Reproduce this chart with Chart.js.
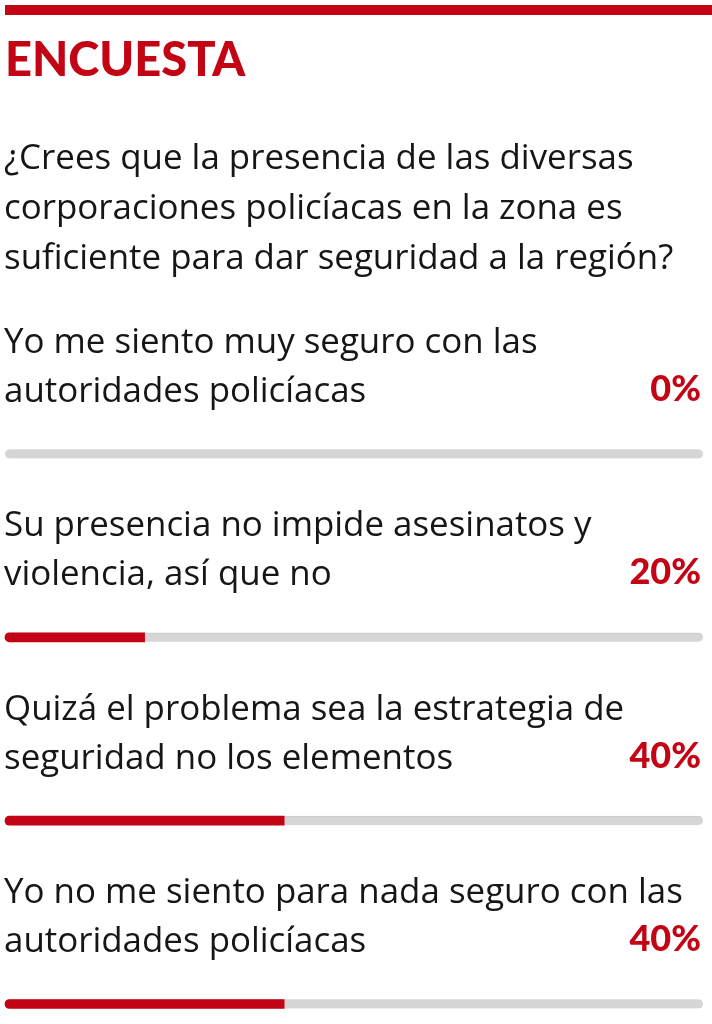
<!DOCTYPE html>
<html>
<head>
<meta charset="utf-8">
<script src="https://cdn.jsdelivr.net/npm/chart.js@4/dist/chart.umd.min.js"></script>
<style>
  html, body { margin: 0; padding: 0; background: #ffffff; }
  #wrap { position: relative; width: 712px; height: 1024px; }
</style>
</head>
<body>
<div id="wrap"><canvas id="poll" width="712" height="1024"></canvas></div>
<script>
const title = 'ENCUESTA';
const question = [
  '¿Crees que la presencia de las diversas',
  'corporaciones policíacas en la zona es',
  'suficiente para dar seguridad a la región?'
];
const options = [
  ['Yo me siento muy seguro con las', 'autoridades policíacas'],
  ['Su presencia no impide asesinatos y', 'violencia, así que no'],
  ['Quizá el problema sea la estrategia de', 'seguridad no los elementos'],
  ['Yo no me siento para nada seguro con las', 'autoridades policíacas']
];
const percents = [0, 20, 40, 40];
const track = [100, 100, 100, 100];

const RED = '#c30415';
const TEXT = '#161616';

// draws header, question, option labels and percentages
const pollText = {
  id: 'pollText',
  afterDraw(chart) {
    const ctx = chart.ctx;
    const yScale = chart.scales.y;
    ctx.save();

    ctx.fillStyle = RED;
    ctx.fillRect(5, 5, 707, 10);

    ctx.textBaseline = 'alphabetic';
    ctx.textAlign = 'left';
    ctx.fillStyle = RED;
    ctx.font = '900 47px Lato';
    ctx.fillText(title, 5, 76);

    ctx.fillStyle = TEXT;
    ctx.font = '34.9px "Open Sans"';
    question.forEach((line, i) => ctx.fillText(line, 4, 169 + i * 50));

    options.forEach((lines, i) => {
      const y = yScale.getPixelForValue(i);
      ctx.fillStyle = TEXT;
      ctx.textAlign = 'left';
      ctx.font = '34.9px "Open Sans"';
      ctx.fillText(lines[0], 4, y - 101);
      ctx.fillText(lines[1], 4, y - 52);
      ctx.fillStyle = RED;
      ctx.textAlign = 'right';
      ctx.font = '900 36px Lato';
      ctx.fillText(percents[i] + '%', 701, y - 53);
    });
    ctx.restore();
  }
};

new Chart(document.getElementById('poll'), {
  type: 'bar',
  data: {
    labels: options.map(o => o.join(' ')),
    datasets: [
      {
        label: 'Porcentaje',
        data: percents,
        backgroundColor: (c) => c.raw > 0 ? RED : 'rgba(0,0,0,0)',
        grouped: false,
        barThickness: 9,
        borderSkipped: false,
        borderRadius: (c) => c.raw > 0
          ? { topLeft: 5, bottomLeft: 5, topRight: 0, bottomRight: 0 }
          : 0,
        clip: false
      },
      {
        label: 'Total',
        data: track,
        backgroundColor: '#d6d6d6',
        borderColor: '#cacaca',
        borderWidth: { top: 1, bottom: 0, left: 0, right: 0 },
        grouped: false,
        barThickness: 9,
        borderSkipped: false,
        borderRadius: 5,
        clip: false
      }
    ]
  },
  options: {
    indexAxis: 'y',
    responsive: false,
    animation: false,
    devicePixelRatio: 1,
    layout: { padding: { left: 5, right: 9, top: 454, bottom: 20 } },
    scales: {
      x: { min: 0, max: 100, display: false },
      y: { display: false, offset: false }
    },
    plugins: {
      legend: { display: false },
      tooltip: { enabled: false }
    }
  },
  plugins: [pollText]
});
</script>
</body>
</html>
